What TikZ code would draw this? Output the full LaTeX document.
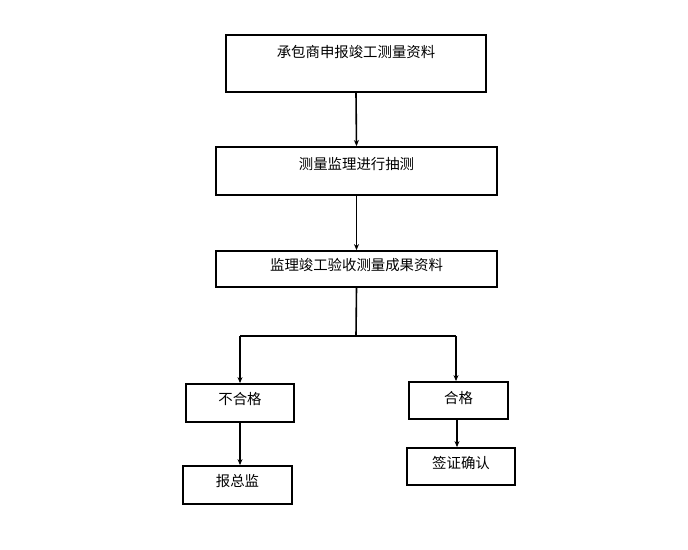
\documentclass[tikz,border=0pt]{standalone}
\usepackage{fontspec}
\newfontfamily\cjk{Noto Sans CJK SC}
\usetikzlibrary{arrows.meta}

\tikzset{
  box/.style={draw, line width=1.8pt, inner xsep=0pt, inner ysep=0pt, font=\cjk\fontsize{14.4}{16}\selectfont},
  flow/.style={line width=1.6pt, -{Stealth[length=6pt,width=5pt]}}
}

\begin{document}
\begin{tikzpicture}[x=1pt, y=-1pt]
\useasboundingbox (0,0) rectangle (688,549);
% upper chain
\node[box, minimum width=260pt, text height=22pt, text depth=35pt](b1) at (356,63.5){承包商申报竣工测量资料};
\node[box, minimum width=281pt, text height=22pt, text depth=26pt](b2) at (356.5,171){测量监理进行抽测};
\node[box, minimum width=281pt, text height=19pt, text depth=17pt](b3) at (356.5,269){监理竣工验收测量成果资料};
% two branches
\node[box, minimum width=108pt, text height=20pt, text depth=18pt](b4) at (240,403){不合格};
\node[box, minimum width=109pt, text height=20pt, text depth=18pt](b6) at (237.5,485){报总监};
\node[box, minimum width=99pt, text height=21pt, text depth=16pt](b5) at (458.5,400.5){合格};
\node[box, minimum width=108pt, text height=20pt, text depth=17pt](b7) at (461,466.5){签证确认};
\coordinate (split) at (356,336);
\coordinate (sl) at (240,336);
\coordinate (sr) at (456,336);
\draw[flow] (b1.south) -- (b2.north);
\draw[flow] (b2.south) -- (b3.north);
\draw[line width=1.6pt] (b3.south) -- (split);
\draw[line width=1.6pt] (sl) -- (sr);
\draw[flow] (sl) -- (sl |- b4.north);
\draw[flow] (sr) -- (sr |- b5.north);
\draw[flow] (b4.south -| sl) -- (sl |- b6.north);
\draw[flow] (b5.south -| 457,0) -- (b7.north -| 457,0);
\end{tikzpicture}
\end{document}
